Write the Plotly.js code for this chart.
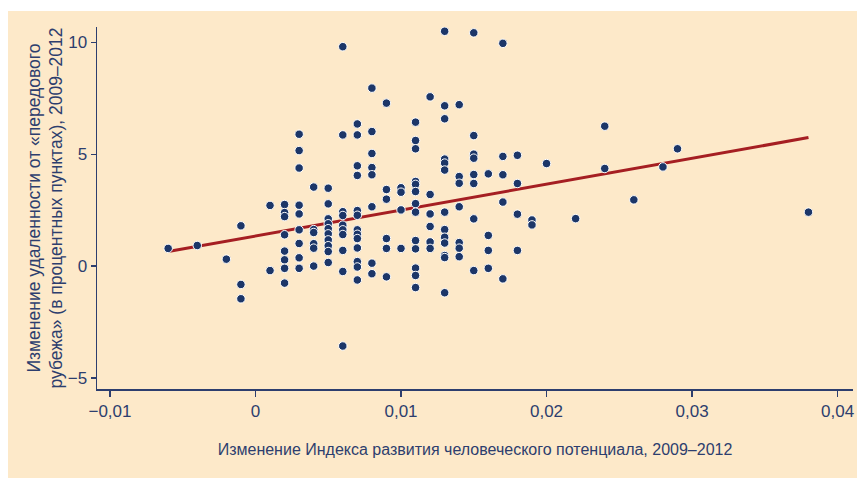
<!DOCTYPE html>
<html>
<head>
<meta charset="utf-8">
<script src="https://cdn.plot.ly/plotly-3.0.1.min.js"></script>
<style>
  html, body { margin: 0; padding: 0; background: #ffffff; }
  #chart { position: absolute; left: 8px; top: 11px; width: 849px; height: 467px; }
</style>
</head>
<body>
<div id="chart"></div>
<script>
// Change in HDI, 2009–2012 (x) and change in distance from frontier, p.p. (y)
const hdiChange = [
  -0.006,
  -0.004,
  -0.002,
  -0.001, -0.001, -0.001,
  0.001, 0.001,
  0.002, 0.002, 0.002, 0.002, 0.002, 0.002, 0.002, 0.002,
  0.003, 0.003, 0.003, 0.003, 0.003, 0.003, 0.003, 0.003, 0.003,
  0.004, 0.004, 0.004, 0.004, 0.004, 0.004,
  0.005, 0.005, 0.005, 0.005, 0.005, 0.005, 0.005, 0.005, 0.005, 0.005,
  0.006, 0.006, 0.006, 0.006, 0.006, 0.006, 0.006, 0.006, 0.006, 0.006,
  0.007, 0.007, 0.007, 0.007, 0.007, 0.007, 0.007, 0.007, 0.007, 0.007, 0.007, 0.007, 0.007,
  0.008, 0.008, 0.008, 0.008, 0.008, 0.008, 0.008, 0.008,
  0.009, 0.009, 0.009, 0.009, 0.009, 0.009,
  0.010, 0.010, 0.010, 0.010,
  0.011, 0.011, 0.011, 0.011, 0.011, 0.011, 0.011, 0.011, 0.011, 0.011, 0.011, 0.011, 0.011,
  0.012, 0.012, 0.012, 0.012, 0.012, 0.012,
  0.013, 0.013, 0.013, 0.013, 0.013, 0.013, 0.013, 0.013, 0.013, 0.013, 0.013, 0.013, 0.013,
  0.014, 0.014, 0.014, 0.014, 0.014, 0.014, 0.014,
  0.015, 0.015, 0.015, 0.015, 0.015, 0.015, 0.015, 0.015,
  0.016, 0.016, 0.016, 0.016,
  0.017, 0.017, 0.017, 0.017, 0.017,
  0.018, 0.018, 0.018, 0.018,
  0.019, 0.019,
  0.020,
  0.022,
  0.024, 0.024,
  0.026,
  0.028,
  0.029,
  0.038
];
const gapChange = [
  0.79,
  0.92,
  0.31,
  1.80, -0.82, -1.46,
  2.71, -0.20,
  2.75, 2.39, 2.21, 1.40, 0.67, 0.28, -0.10, -0.76,
  5.89, 5.16, 4.38, 2.72, 2.33, 1.62, 1.01, 0.37, -0.10,
  3.53, 1.63, 1.50, 1.00, 0.80, 0.00,
  3.48, 2.78, 2.11, 1.89, 1.67, 1.44, 1.17, 0.91, 0.65, 0.16,
  9.80, 5.86, 2.43, 2.26, 1.83, 1.62, 1.41, 0.70, -0.24, -3.57,
  6.35, 5.86, 4.48, 4.05, 2.48, 2.27, 1.62, 1.42, 1.23, 0.81, 0.20, -0.04, -0.62,
  7.95, 6.01, 5.03, 4.40, 4.08, 2.65, 0.13, -0.34,
  7.28, 3.42, 2.99, 1.23, 0.79, -0.48,
  3.50, 3.30, 2.51, 0.79,
  6.43, 5.61, 5.24, 3.78, 3.65, 3.33, 2.79, 2.41, 1.14, 0.77, -0.09, -0.42, -0.96,
  7.56, 3.20, 2.33, 1.77, 1.08, 0.79,
  10.49, 7.16, 6.58, 4.78, 4.60, 4.29, 2.41, 1.63, 1.29, 1.03, 0.47, 0.38, -1.19,
  7.21, 4.00, 3.70, 2.65, 1.05, 0.80, 0.42,
  10.42, 5.83, 5.00, 4.82, 4.09, 3.69, 2.11, -0.20,
  4.12, 1.37, 0.70, -0.10,
  9.95, 4.90, 4.08, 2.86, -0.57,
  4.95, 3.69, 2.32, 0.70,
  2.06, 1.84,
  4.58,
  2.12,
  6.25, 4.36,
  2.96,
  4.43,
  5.24,
  2.41
];
// Fitted trend line endpoints
const fitX = [-0.006, 0.038];
const fitY = [0.65, 5.74];

const xTicks = [-0.01, 0, 0.01, 0.02, 0.03, 0.04];
const yTicks = [-5, 0, 5, 10];

const xTitle = 'Изменение Индекса развития человеческого потенциала, 2009–2012';
const yTitle = 'Изменение удаленности от «передового<br>рубежа» (в процентных пунктах), 2009–2012';

const textColor = '#2d3e6e';
const axisColor = '#2d3e6e';
const fontFamily = '"Liberation Sans", Arial, sans-serif';

const traces = [
  {
    x: fitX, y: fitY, type: 'scatter', mode: 'lines',
    line: { color: '#a51e22', width: 3 },
    hoverinfo: 'skip', showlegend: false
  },
  {
    x: hdiChange, y: gapChange, type: 'scatter', mode: 'markers',
    marker: { color: '#1c3668', size: 8.5, line: { color: '#ffffff', width: 1 } },
    showlegend: false
  }
];

const layout = {
  width: 849, height: 467,
  margin: { l: 89, r: 4, t: 16, b: 89 },
  paper_bgcolor: '#fde9c9',
  plot_bgcolor: '#fde9c9',
  separators: ', ',
  font: { family: fontFamily, size: 17, color: textColor },
  showlegend: false,
  xaxis: {
    range: [-0.01089, 0.04106],
    tickvals: xTicks,
    showgrid: false, zeroline: false,
    showline: true, linecolor: axisColor, linewidth: 1.5,
    ticks: 'outside', ticklen: 6, tickwidth: 1.2, tickcolor: axisColor,
    tickfont: { family: fontFamily, size: 17, color: textColor },
    title: { text: xTitle, font: { family: fontFamily, size: 16, color: textColor }, standoff: 24 }
  },
  yaxis: {
    range: [-5.49, 10.68],
    tickvals: yTicks,
    showgrid: false, zeroline: false,
    showline: true, linecolor: axisColor, linewidth: 1.5,
    ticks: 'outside', ticklen: 5, tickwidth: 1.2, tickcolor: axisColor,
    tickfont: { family: fontFamily, size: 17, color: textColor },
    title: { text: yTitle, font: { family: fontFamily, size: 17.5, color: textColor }, standoff: 0 }
  }
};

Plotly.newPlot('chart', traces, layout, { displayModeBar: false, staticPlot: true });
</script>
</body>
</html>
